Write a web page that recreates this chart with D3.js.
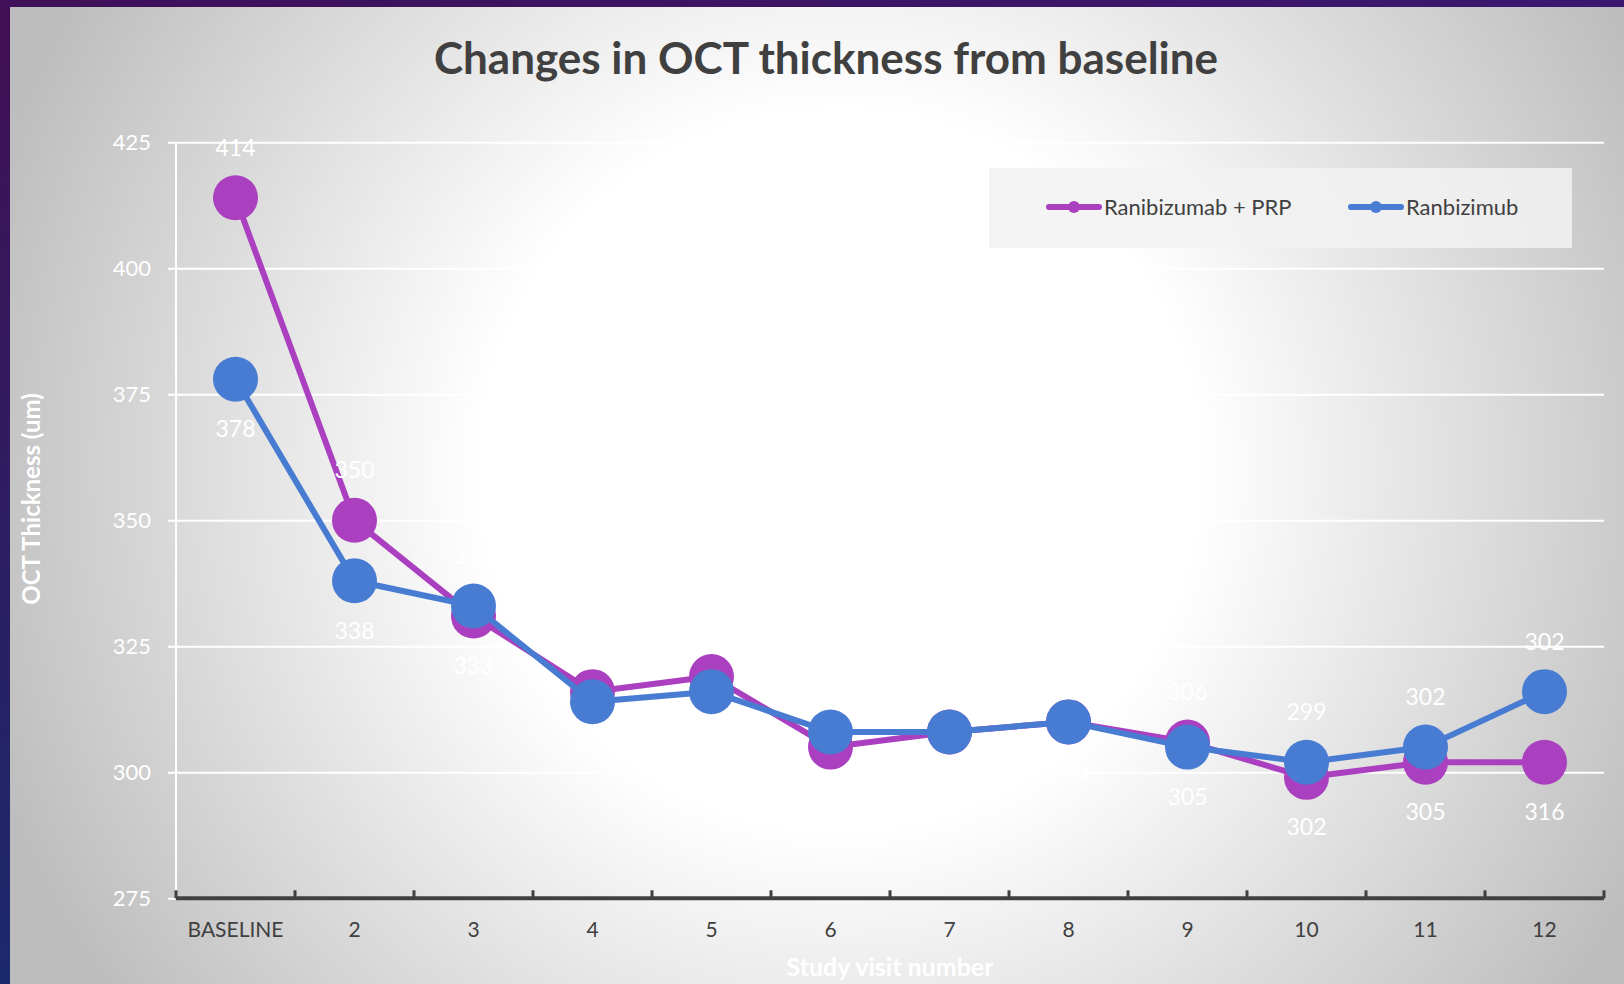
<!DOCTYPE html>
<html>
<head>
<meta charset="utf-8">
<script src="https://cdn.jsdelivr.net/npm/d3@7"></script>
<style>
html,body{margin:0;padding:0;background:#2a1a5e;}
svg{display:block;}
</style>
</head>
<body>
<svg id="chart" width="1624" height="984"></svg>
<script>
const categories = ["BASELINE","2","3","4","5","6","7","8","9","10","11","12"];
const seriesNames = ["Ranibizumab + PRP","Ranbizimub"];
const prpValues = [414, 350, 331, 316, 319, 305, 308, 310, 306, 299, 302, 302];
const ranValues = [378, 338, 333, 314, 316, 308, 308, 310, 305, 302, 305, 316];
const prpLabels = [414, 350, 331, 316, 319, 305, 308, 310, 306, 299, 302, 302];
const ranLabels = [378, 338, 333, 314, 316, 308, 308, 310, 305, 302, 305, 316];
const yTicks = [275, 300, 325, 350, 375, 400, 425];
const colors = ["#aa40c0", "#487cd2"];

(function(){
const W = 1624, H = 984;
const svg = d3.select("#chart");
const defs = svg.append("defs");

// frame gradients
const lg = defs.append("linearGradient").attr("id","frameG").attr("x1",0).attr("y1",0).attr("x2",0).attr("y2",1);
lg.append("stop").attr("offset","0%").attr("stop-color","#420f55");
lg.append("stop").attr("offset","100%").attr("stop-color","#1b2a6c");
svg.append("rect").attr("width",W).attr("height",H).attr("fill","url(#frameG)");
const tg = defs.append("linearGradient").attr("id","topG").attr("x1",0).attr("y1",0).attr("x2",1).attr("y2",0);
tg.append("stop").attr("offset","0%").attr("stop-color","#401058");
tg.append("stop").attr("offset","100%").attr("stop-color","#3a1870");
svg.append("rect").attr("width",W).attr("height",8).attr("fill","url(#topG)");

// chart area background
const rg = defs.append("radialGradient").attr("id","bgG").attr("gradientUnits","userSpaceOnUse")
  .attr("cx",840).attr("cy",470).attr("r",900);
rg.append("stop").attr("offset","0%").attr("stop-color","#ffffff");
rg.append("stop").attr("offset","40%").attr("stop-color","#ffffff");
rg.append("stop").attr("offset","100%").attr("stop-color","#bdbdbd");
svg.append("rect").attr("x",10).attr("y",7).attr("width",W-10).attr("height",H-7).attr("fill","url(#bgG)");

const pLeft = 176, pRight = 1604, pTop = 142.3, pBottom = 898.3;
const x = d3.scaleBand().domain(categories).range([pLeft, pRight]).padding(0);
const y = d3.scaleLinear().domain([275, 425]).range([pBottom, pTop]);
const cx = c => x(c) + x.bandwidth()/2;

// y axis with gridlines
const yAxis = d3.axisLeft(y).tickValues(yTicks).tickSizeInner(-(pRight-pLeft)).tickSizeOuter(0).tickPadding(25);
const gy = svg.append("g").attr("transform",`translate(${pLeft},0)`).call(yAxis);
gy.select(".domain").remove();
gy.selectAll(".tick line").attr("x1",-8).attr("stroke","#ffffff").attr("stroke-width",2);
gy.selectAll(".tick text").attr("fill","#ffffff").style("font-family","Lato").style("font-size","22px");
svg.append("line").attr("x1",pLeft).attr("x2",pLeft).attr("y1",pTop).attr("y2",pBottom)
  .attr("stroke","#ffffff").attr("stroke-width",2);

// x axis
const xTicksPos = d3.range(categories.length+1).map(i => pLeft + i*x.bandwidth());
const gx = svg.append("g");
gx.append("line").attr("x1",pLeft).attr("x2",pRight).attr("y1",pBottom).attr("y2",pBottom)
  .attr("stroke","#404040").attr("stroke-width",4);
gx.selectAll("line.xt").data(xTicksPos).join("line").attr("class","xt")
  .attr("x1",d=>d).attr("x2",d=>d).attr("y1",pBottom-8).attr("y2",pBottom)
  .attr("stroke","#404040").attr("stroke-width",3);
const xAxis = d3.axisBottom(x).tickSize(0).tickPadding(24);
const gxl = svg.append("g").attr("transform",`translate(0,${pBottom})`).call(xAxis);
gxl.select(".domain").remove();
gxl.selectAll(".tick text").attr("fill","#404040").style("font-family","Lato").style("font-size","21px");

// title
svg.append("text").attr("x",826).attr("y",74).attr("text-anchor","middle")
  .attr("fill","#404040").style("font-family","Lato").style("font-weight","bold").style("font-size","44px")
  .text("Changes in OCT thickness from baseline");

// axis titles
svg.append("text").attr("x",890).attr("y",976).attr("text-anchor","middle")
  .attr("fill","#ffffff").style("font-family","Lato").style("font-weight","bold").style("font-size","25px")
  .text("Study visit number");
svg.append("text").attr("transform","translate(40,499) rotate(-90)").attr("text-anchor","middle")
  .attr("fill","#ffffff").style("font-family","Lato").style("font-weight","bold").style("font-size","24px")
  .text("OCT Thickness (um)");

// legend
svg.append("rect").attr("x",989).attr("y",168).attr("width",583).attr("height",80).attr("fill","#f2f2f2").attr("opacity",0.85);
const legendItems = [{name:seriesNames[0], color:colors[0], x:1046}, {name:seriesNames[1], color:colors[1], x:1348}];
legendItems.forEach(it => {
  const g = svg.append("g");
  g.append("line").attr("x1",it.x+3).attr("x2",it.x+53).attr("y1",207).attr("y2",207)
    .attr("stroke",it.color).attr("stroke-width",6).attr("stroke-linecap","round");
  g.append("circle").attr("cx",it.x+28).attr("cy",207).attr("r",6).attr("fill",it.color);
  g.append("text").attr("x",it.x+58).attr("y",215).attr("fill","#404040")
    .style("font-family","Lato").style("font-size","22px").text(it.name);
});

// series
const series = [
  {vals: prpValues, color: colors[0]},
  {vals: ranValues, color: colors[1]}
];
const line = d3.line().x((d,i)=>cx(categories[i])).y(d=>y(d));
series.forEach(s => {
  svg.append("path").datum(s.vals).attr("d",line).attr("fill","none")
    .attr("stroke",s.color).attr("stroke-width",6).attr("stroke-linejoin","round");
  svg.append("g").selectAll("circle").data(s.vals).join("circle")
    .attr("cx",(d,i)=>cx(categories[i])).attr("cy",d=>y(d)).attr("r",22.5).attr("fill",s.color);
});

// data labels: first series above the upper dot, second below the lower dot
const labG = svg.append("g").style("font-family","Lato").style("font-size","23px").attr("fill","#ffffff").attr("text-anchor","middle");
categories.forEach((c,i) => {
  const upper = Math.max(prpValues[i], ranValues[i]);
  const lower = Math.min(prpValues[i], ranValues[i]);
  labG.append("text").attr("x",cx(c)).attr("y",y(upper)-50).attr("dy","0.35em").text(prpLabels[i]);
  labG.append("text").attr("x",cx(c)).attr("y",y(lower)+50).attr("dy","0.35em").text(ranLabels[i]);
});
})();
</script>
</body>
</html>
